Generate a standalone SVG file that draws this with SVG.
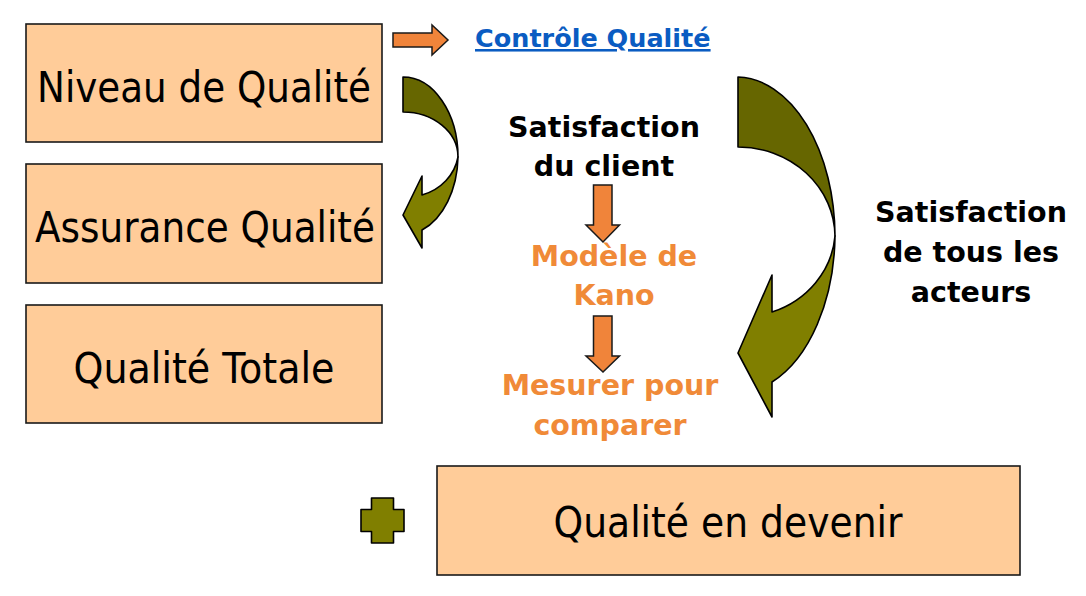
<svg xmlns="http://www.w3.org/2000/svg" width="1086" height="596" viewBox="0 0 1086 596">
<style>
.box{fill:#FFCC99;stroke:#1a1a1a;stroke-width:1.6}
.bt{font-family:"DejaVu Sans","Liberation Sans",sans-serif;font-size:42px;fill:#000;text-anchor:middle}
.bold{font-family:"DejaVu Sans","Liberation Sans",sans-serif;font-weight:bold;font-size:28.5px;text-anchor:middle}
.blk{fill:#000}
.org{fill:#F08A38}
.link{fill:#0A5CC2;font-family:"DejaVu Sans","Liberation Sans",sans-serif;font-weight:bold;font-size:25.5px;text-decoration:underline}
.oarr{fill:#F0843A;stroke:#1a1a1a;stroke-width:1.5;stroke-linejoin:miter}
.dark{fill:#666600;stroke:#000;stroke-width:1.6;stroke-linejoin:round}
.light{fill:#807F00;stroke:#000;stroke-width:1.6;stroke-linejoin:round}
</style>
<rect width="1086" height="596" fill="#fff"/>
<g id="niveau">
<rect class="box" x="26" y="24" width="356" height="118"/>
<text class="bt" x="204" y="102" textLength="334" lengthAdjust="spacingAndGlyphs">Niveau de Qualité</text>
</g>
<g id="assurance">
<rect class="box" x="26" y="164" width="356" height="119"/>
<text class="bt" x="205" y="242" textLength="340" lengthAdjust="spacingAndGlyphs">Assurance Qualité</text>
</g>
<g id="totale">
<rect class="box" x="26" y="305" width="356" height="118"/>
<text class="bt" x="204" y="383" textLength="261" lengthAdjust="spacingAndGlyphs">Qualité Totale</text>
</g>
<g id="devenir">
<rect class="box" x="437" y="466" width="583" height="109"/>
<text class="bt" x="728" y="537" textLength="349" lengthAdjust="spacingAndGlyphs">Qualité en devenir</text>
</g>
<g id="controle">
<text class="link" x="475" y="47">Contrôle Qualité</text>
</g>
<g id="satisfaction-client">
<text class="bold blk" x="604" y="137">Satisfaction</text>
<text class="bold blk" x="604" y="176">du client</text>
</g>
<g id="kano">
<text class="bold org" x="614" y="266">Modèle de</text>
<text class="bold org" x="614" y="305">Kano</text>
</g>
<g id="mesurer">
<text class="bold org" x="610" y="395">Mesurer pour</text>
<text class="bold org" x="610" y="435">comparer</text>
</g>
<g id="satisfaction-acteurs">
<text class="bold blk" x="971" y="222">Satisfaction</text>
<text class="bold blk" x="971" y="262">de tous les</text>
<text class="bold blk" x="971" y="302">acteurs</text>
</g>
<g id="plus">
<path class="light" stroke-width="2" d="M371.5,498 H393.5 V509.5 H404 V531.5 H393.5 V543 H371.5 V531.5 H361 V509.5 H371.5 Z"/>
</g>
<g id="connectors">
<path class="oarr" d="M393,33 H432 V25 L448,40 L432,55 V47 H393 Z"/>
<path class="oarr" d="M593.5,185 H612 V225 H619.5 L603,242 L586,225 H593.5 Z"/>
<path class="oarr" d="M593.5,316 H612 V356 H619.5 L603,372 L586,356 H593.5 Z"/>
<path class="dark" d="M403,77 A55,80 0 0 1 458,157 A55,45 0 0 0 403,112 Z"/>
<path class="light" d="M458,157 A55,80 0 0 1 422,230 L422,248 L403,215 L422,176 L422,195 A52,48 0 0 0 458,157 Z"/>
<path class="dark" d="M738,77 A99,160 0 0 1 835,236 A97,90 0 0 0 738,147 Z"/>
<path class="light" d="M835,236 A99,160 0 0 1 772,382 L772,417 L738,353 L772,275 L772,312 A95,88 0 0 0 835,236 Z"/>
</g>
</svg>
